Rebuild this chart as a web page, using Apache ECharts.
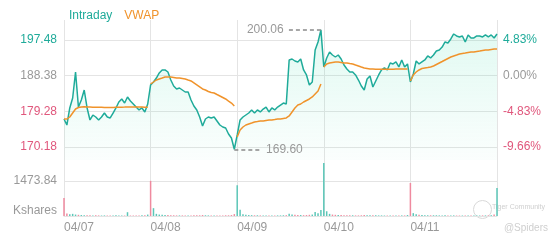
<!DOCTYPE html>
<html><head><meta charset="utf-8">
<script src="https://cdn.jsdelivr.net/npm/echarts@6/dist/echarts.min.js"></script>
<style>html,body{margin:0;padding:0;background:#fff}#c{width:560px;height:240px}</style>
</head><body><div id="c"></div>
<script>
const dates = ['04/07','04/08','04/09','04/10','04/11'];
const prevClose = 188.38;
const priceTicks = [170.18, 179.28, 188.38, 197.48];
const volumeTicks = [0, 1473.84];
const samplesPerDay = 30;
const minutesPerDay = 390;

const intraday = [
177.32,175.79,180.13,182.68,189.31,180.38,182.17,184.72,180.13,177.07,
178.34,177.83,177.07,177.83,178.85,177.83,177.58,178.85,180.13,181.66,
182.43,181.40,182.94,181.91,181.15,180.38,179.62,180.13,179.11,181.15,
186.00,186.76,187.78,189.06,189.83,189.83,189.31,187.27,185.74,184.98,
185.23,184.72,184.21,184.21,182.17,180.64,179.62,177.83,175.54,177.32,
177.83,177.58,177.83,176.81,175.79,175.28,175.03,173.49,172.47,169.60,
173.24,177.07,177.83,178.34,178.85,179.62,178.85,179.62,179.11,179.87,
180.38,179.11,180.13,179.62,180.38,180.89,181.40,181.15,192.38,192.63,
192.12,191.87,192.63,189.83,188.55,186.00,186.76,194.93,196.97,200.06,
190.59,192.89,194.42,193.65,193.14,193.65,192.63,191.10,190.08,189.31,
189.31,188.55,187.27,185.74,184.72,187.53,188.29,185.49,187.02,188.55,
189.83,190.34,189.83,191.61,191.36,191.87,190.59,192.38,190.59,191.36,
186.76,188.80,192.12,191.36,191.87,192.38,193.40,192.89,193.65,194.67,
194.93,195.69,196.97,196.71,197.74,199.01,198.50,198.25,198.50,196.97,
198.76,197.99,197.99,198.50,198.50,198.25,198.76,198.25,198.76,197.99,
199.01
];

const vwap = [
177.32,177.32,177.83,178.85,179.87,180.26,180.38,180.45,180.40,180.38,
180.35,180.33,180.30,180.30,180.28,180.28,180.27,180.28,180.30,180.32,
180.35,180.36,180.38,180.38,180.38,180.38,180.37,180.36,180.35,180.35,
186.25,186.76,187.27,187.53,187.78,188.04,188.04,188.04,187.91,187.78,
187.78,187.66,187.53,187.27,187.02,186.51,186.00,185.49,184.98,184.72,
184.34,184.08,183.96,183.57,183.19,182.81,182.43,181.91,181.40,180.64,
172.73,174.51,175.28,175.79,176.05,176.30,176.56,176.68,176.81,176.81,
176.94,177.07,177.07,177.19,177.32,177.32,177.45,177.58,178.09,179.11,
180.13,180.89,181.15,181.66,182.04,182.43,182.94,183.70,184.47,186.25,
190.59,191.36,191.61,191.74,191.87,191.87,191.74,191.61,191.61,191.48,
191.36,191.10,190.85,190.59,190.34,190.21,190.08,190.05,190.02,190.00,
190.00,190.00,190.00,190.02,190.03,190.05,190.06,190.08,190.08,190.10,
187.02,188.55,189.31,189.83,190.21,190.34,190.46,190.59,190.85,191.23,
191.61,191.99,192.38,192.76,193.14,193.40,193.65,193.91,194.04,194.16,
194.29,194.42,194.42,194.55,194.67,194.80,194.93,194.93,195.06,195.18,
195.18
];

const volume = [
760,110,70,90,60,50,40,30,35,30,25,30,25,20,25,20,20,25,30,25,20,20,160,20,20,25,20,30,35,60,
1480,330,90,60,50,40,40,30,30,25,25,25,20,20,25,30,35,30,40,30,25,25,20,20,25,25,30,30,40,80,
1300,260,70,50,40,35,30,30,25,25,25,20,20,20,25,25,30,35,90,60,50,40,40,35,40,50,60,170,120,250,
2230,200,90,60,50,45,40,35,30,30,30,25,25,30,40,35,30,35,30,25,25,20,20,20,20,20,20,25,25,40,
1390,120,70,50,40,35,30,30,30,30,25,25,30,25,25,25,20,20,20,20,20,20,20,20,20,25,25,25,30,60,
1180
];
const openBarDown = [true, true, false, false, true];

const TEAL = '#1fab9a', ORANGE = '#f0932b', PINK = '#e0577c', GRAY = '#999999';
const FONT = 'Liberation Sans, Arial, sans-serif';
const step = minutesPerDay / samplesPerDay;
const tOf = i => i * step;

const priceData = intraday.map((v, i) => [tOf(i), v]);
const vwapData = [];
vwap.forEach((v, i) => {
  if (i > 0 && i % samplesPerDay === 0 && i < samplesPerDay * dates.length) vwapData.push([tOf(i) - step / 2, '-']);
  vwapData.push([tOf(i), v]);
});
const volData = volume.map((v, i) => {
  let down;
  const day = Math.floor(i / samplesPerDay);
  if (i % samplesPerDay === 0 && day < dates.length) down = openBarDown[day];
  else down = intraday[i] < intraday[i - 1];
  return { value: [tOf(i), v], itemStyle: { color: down ? '#ef8a9f' : '#5cc7b8' } };
});

let maxI = 0, minI = 0;
intraday.forEach((v, i) => { if (v > intraday[maxI]) maxI = i; if (v < intraday[minI]) minI = i; });
const maxV = intraday[maxI], minV = intraday[minI];

const priceColor = v => Math.abs(v - prevClose) < 0.005 ? GRAY : (v > prevClose ? TEAL : PINK);
const totalT = minutesPerDay * dates.length;

const chart = echarts.init(document.getElementById('c'), null, { renderer: 'canvas' });
chart.setOption({
  animation: false,
  textStyle: { fontFamily: FONT },
  legend: {
    left: 59, top: 4, icon: 'none', itemWidth: 0, itemHeight: 14, itemGap: 7,
    textStyle: { fontSize: 12, fontFamily: FONT },
    data: [
      { name: 'Intraday', textStyle: { color: TEAL } },
      { name: 'VWAP', textStyle: { color: ORANGE } }
    ],
    selectedMode: false
  },
  grid: [
    { left: 64, right: 63, top: 20, height: 140 },
    { left: 64, right: 63, top: 160, height: 56 }
  ],
  xAxis: [
    { type: 'value', gridIndex: 0, min: 0, max: totalT, interval: minutesPerDay,
      axisLine: { show: false }, axisTick: { show: false }, axisLabel: { show: false },
      splitLine: { show: true, lineStyle: { color: '#e4e4e4', width: 1 } } },
    { type: 'value', gridIndex: 1, min: 0, max: totalT, interval: minutesPerDay,
      axisLine: { show: true, lineStyle: { color: '#e4e4e4' } }, axisTick: { show: false },
      axisLabel: { show: true, color: GRAY, fontSize: 12, fontFamily: FONT, align: 'left', margin: 6,
        formatter: v => dates[Math.round(v / minutesPerDay)] || '' },
      splitLine: { show: true, lineStyle: { color: '#e4e4e4', width: 1 } } }
  ],
  yAxis: [
    { type: 'value', gridIndex: 0, position: 'left', min: 166.86, max: 202.58,
      axisLine: { show: false },
      axisTick: { show: false, customValues: priceTicks },
      axisLabel: { customValues: priceTicks, fontSize: 12, fontFamily: FONT, margin: 7,
        formatter: v => v.toFixed(2), color: v => priceColor(v) },
      splitLine: { show: true, lineStyle: { color: '#e4e4e4' } } },
    { type: 'value', gridIndex: 0, position: 'right', min: 166.86, max: 202.58,
      axisLine: { show: false },
      axisTick: { show: false, customValues: priceTicks },
      axisLabel: { customValues: priceTicks, fontSize: 12, fontFamily: FONT, margin: 6,
        formatter: v => ((v / prevClose - 1) * 100).toFixed(2) + '%', color: v => priceColor(v) },
      splitLine: { show: false } },
    { type: 'value', gridIndex: 1, min: 0, max: 2358,
      axisLine: { show: false },
      axisTick: { show: false, customValues: volumeTicks },
      axisLabel: { customValues: volumeTicks, fontSize: 12, fontFamily: FONT, margin: 7, color: GRAY,
        formatter: v => v === 0 ? '{k|Kshares}' : v.toFixed(2),
        rich: { k: { color: GRAY, fontSize: 12, fontFamily: FONT, padding: [0, 0, 10, 0] } } },
      splitLine: { show: true, lineStyle: { color: '#e4e4e4' } } }
  ],
  series: [
    { name: 'Intraday', type: 'line', xAxisIndex: 0, yAxisIndex: 0, data: priceData,
      symbol: 'none', lineStyle: { color: TEAL, width: 1.5 }, itemStyle: { color: TEAL },
      areaStyle: { origin: 'start', color: new echarts.graphic.LinearGradient(0, 0, 0, 1, [
        { offset: 0, color: 'rgba(60,220,170,0.22)' }, { offset: 1, color: 'rgba(60,220,170,0.03)' }]) },
      z: 3,
      markLine: { silent: true, symbol: ['none', 'none'], animation: false,
        lineStyle: { color: '#8a8a8a', type: [4, 3], width: 1.5 },
        label: { show: true, position: 'end', color: GRAY, fontSize: 12, fontFamily: FONT, distance: 4 },
        data: [
          [{ coord: [tOf(maxI), maxV] }, { coord: [tOf(maxI) - 150, maxV], label: { formatter: maxV.toFixed(2) } }],
          [{ coord: [tOf(minI), minV] }, { coord: [tOf(minI) + 125, minV], label: { formatter: minV.toFixed(2) } }]
        ] } },
    { name: 'VWAP', type: 'line', xAxisIndex: 0, yAxisIndex: 0, data: vwapData,
      symbol: 'none', connectNulls: false, lineStyle: { color: ORANGE, width: 1.5 }, itemStyle: { color: ORANGE }, z: 4 },
    { name: 'Volume', type: 'bar', xAxisIndex: 1, yAxisIndex: 2, data: volData, barWidth: 1.5 }
  ],
  graphic: [
    { type: 'circle', left: 471, top: 198, shape: { r: 9 }, style: { fill: 'none', stroke: '#d8d8d8', lineWidth: 1 }, silent: true },
    { type: 'text', left: 492, top: 204, style: { text: 'Tiger Community', fill: '#cfcfcf', fontSize: 7, fontFamily: FONT }, silent: true },
    { type: 'text', right: 12, top: 223, style: { text: '@Spiders', fill: '#cfcfcf', fontSize: 10, fontFamily: FONT }, silent: true }
  ]
});
</script>
</body></html>
